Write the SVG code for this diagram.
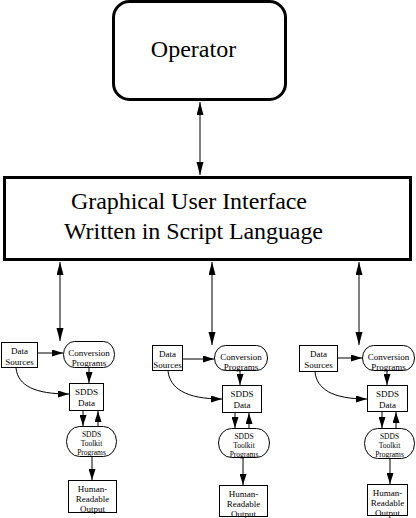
<svg xmlns="http://www.w3.org/2000/svg" width="416" height="518" viewBox="0 0 416 518">
<style>
.big{fill:none;stroke:#000;stroke-width:3}
.box{fill:#fff;stroke:#000;stroke-width:1}
.ln{fill:none;stroke:#000;stroke-width:1}
.t{font-family:"Liberation Serif","Times New Roman",serif;fill:#000}
.lg{font-size:24px}
.sm{font-size:9px;text-anchor:middle}
.xs{font-size:7.5px;text-anchor:middle}
</style>
<defs>
<marker id="ah" markerUnits="userSpaceOnUse" markerWidth="13" markerHeight="8" refX="13" refY="3.5" orient="auto-start-reverse"><path d="M0,0 L13,3.5 L0,7 z" fill="#000"/></marker>
<marker id="as" markerUnits="userSpaceOnUse" markerWidth="11" markerHeight="7" refX="11" refY="3.5" orient="auto"><path d="M0,0 L11,3.5 L0,7 z" fill="#000"/></marker>
</defs>
<g id="operator">
<rect class="big" x="113.5" y="1.5" width="172" height="98" rx="16" ry="16"/>
<text class="t lg" x="193.5" y="57" text-anchor="middle">Operator</text>
</g>
<g id="gui">
<rect class="big" x="4.5" y="177.5" width="406" height="82"/>
<text class="t lg" x="71" y="209" textLength="236">Graphical User Interface</text>
<text class="t lg" x="64" y="239" textLength="259">Written in Script Language</text>
</g>
<g id="g1">
<g id="ds1"><rect class="box" x="1.5" y="342.5" width="36" height="25"/>
<text class="t sm" x="19.5" y="354">Data</text><text class="t sm" x="19.5" y="365">Sources</text></g>
<g id="cp1"><rect class="box" x="63.5" y="341.5" width="51" height="26" rx="11" ry="13"/>
<text class="t sm" x="89" y="356">Conversion</text><text class="t sm" x="89" y="366">Programs</text></g>
<g id="sd1"><rect class="box" x="69.5" y="383.5" width="34" height="27"/>
<text class="t sm" x="86.5" y="395">SDDS</text><text class="t sm" x="86.5" y="406">Data</text></g>
<g id="tk1"><rect class="box" x="66.5" y="426.5" width="50" height="30" rx="13" ry="15"/>
<text class="t xs" x="91.5" y="437">SDDS</text><text class="t xs" x="91.5" y="446">Toolkit</text><text class="t xs" x="91.5" y="455">Programs</text></g>
<g id="hr1"><rect class="box" x="68.5" y="480.5" width="48" height="32"/>
<text class="t sm" x="92.5" y="492">Human-</text><text class="t sm" x="92.5" y="502">Readable</text><text class="t sm" x="92.5" y="512">Output</text></g>
</g>
<g id="g2">
<g id="ds2"><rect class="box" x="152.5" y="345.5" width="30" height="25"/>
<text class="t sm" x="167.5" y="357">Data</text><text class="t sm" x="167.5" y="368">Sources</text></g>
<g id="cp2"><rect class="box" x="214.5" y="345.5" width="53" height="25" rx="11" ry="12.5"/>
<text class="t sm" x="241" y="360">Conversion</text><text class="t sm" x="241" y="370">Programs</text></g>
<g id="sd2"><rect class="box" x="222.5" y="385.5" width="39" height="27"/>
<text class="t sm" x="242" y="397">SDDS</text><text class="t sm" x="242" y="408">Data</text></g>
<g id="tk2"><rect class="box" x="218.5" y="428.5" width="51" height="29" rx="13" ry="14.5"/>
<text class="t xs" x="244" y="439">SDDS</text><text class="t xs" x="244" y="448">Toolkit</text><text class="t xs" x="244" y="457">Programs</text></g>
<g id="hr2"><rect class="box" x="219.5" y="485.5" width="48" height="31"/>
<text class="t sm" x="243.5" y="497">Human-</text><text class="t sm" x="243.5" y="507">Readable</text><text class="t sm" x="243.5" y="517">Output</text></g>
</g>
<g id="g3">
<g id="ds3"><rect class="box" x="299.5" y="345.5" width="38" height="26"/>
<text class="t sm" x="318.5" y="357">Data</text><text class="t sm" x="318.5" y="368">Sources</text></g>
<g id="cp3"><rect class="box" x="362.5" y="345.5" width="52" height="25" rx="11" ry="12.5"/>
<text class="t sm" x="388.5" y="360">Conversion</text><text class="t sm" x="388.5" y="370">Programs</text></g>
<g id="sd3"><rect class="box" x="367.5" y="385.5" width="40" height="26"/>
<text class="t sm" x="387.5" y="397">SDDS</text><text class="t sm" x="387.5" y="408">Data</text></g>
<g id="tk3"><rect class="box" x="364.5" y="428.5" width="50" height="30" rx="13" ry="15"/>
<text class="t xs" x="389.5" y="439">SDDS</text><text class="t xs" x="389.5" y="448">Toolkit</text><text class="t xs" x="389.5" y="457">Programs</text></g>
<g id="hr3"><rect class="box" x="367.5" y="484.5" width="40" height="31"/>
<text class="t sm" x="387.5" y="496">Human-</text><text class="t sm" x="387.5" y="506">Readable</text><text class="t sm" x="387.5" y="516">Output</text></g>
</g>
<g id="connectors">
<line class="ln" x1="200" y1="102" x2="200" y2="175" marker-start="url(#ah)" marker-end="url(#ah)"/>
<line class="ln" x1="60" y1="262" x2="60" y2="341" marker-start="url(#ah)" marker-end="url(#ah)"/>
<line class="ln" x1="212" y1="262" x2="212" y2="345" marker-start="url(#ah)" marker-end="url(#ah)"/>
<line class="ln" x1="359" y1="262" x2="359" y2="345" marker-start="url(#ah)" marker-end="url(#ah)"/>
<line class="ln" x1="38" y1="353" x2="63" y2="353" marker-end="url(#as)"/>
<line class="ln" x1="89" y1="368" x2="89" y2="383" marker-end="url(#as)"/>
<path class="ln" d="M16,368 C18,386 35,394 69,394" marker-end="url(#as)"/>
<line class="ln" x1="83" y1="411" x2="83" y2="426" marker-end="url(#as)"/>
<line class="ln" x1="98" y1="426" x2="98" y2="411" marker-end="url(#as)"/>
<line class="ln" x1="92" y1="457" x2="92" y2="480" marker-end="url(#as)"/>
<line class="ln" x1="183" y1="359" x2="214" y2="359" marker-end="url(#as)"/>
<line class="ln" x1="240" y1="371" x2="240" y2="385" marker-end="url(#as)"/>
<path class="ln" d="M168,371 C170,388 185,399 222,399" marker-end="url(#as)"/>
<line class="ln" x1="235" y1="413" x2="235" y2="428" marker-end="url(#as)"/>
<line class="ln" x1="249" y1="428" x2="249" y2="413" marker-end="url(#as)"/>
<line class="ln" x1="243" y1="458" x2="243" y2="485" marker-end="url(#as)"/>
<line class="ln" x1="338" y1="358" x2="362" y2="358" marker-end="url(#as)"/>
<line class="ln" x1="387" y1="371" x2="387" y2="385" marker-end="url(#as)"/>
<path class="ln" d="M315,372 C317,389 332,399 367,399" marker-end="url(#as)"/>
<line class="ln" x1="382" y1="412" x2="382" y2="428" marker-end="url(#as)"/>
<line class="ln" x1="396" y1="428" x2="396" y2="412" marker-end="url(#as)"/>
<line class="ln" x1="390" y1="459" x2="390" y2="484" marker-end="url(#as)"/>
</g>
</svg>
